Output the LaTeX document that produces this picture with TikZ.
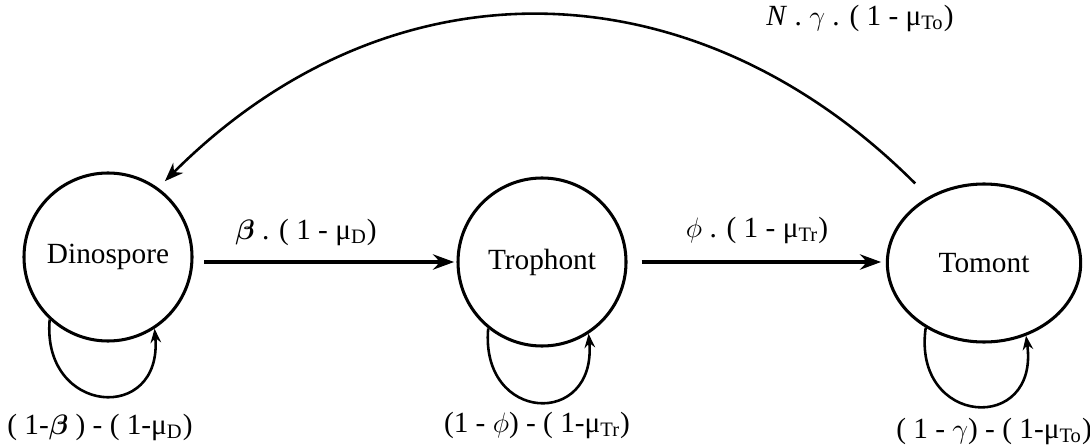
\documentclass[tikz,border=0pt]{standalone}
\usepackage{amsmath}
\usepackage{fontspec}
\setmainfont{Liberation Serif}
\usepackage{tikz}
\usetikzlibrary{shapes.geometric, arrows.meta, positioning}
\tikzset{
  stage/.style={circle, draw, line width=1.3pt, minimum size=2.52cm,
    inner sep=0pt, align=center},
  ovalstage/.style={ellipse, draw, line width=1.3pt, minimum width=2.9cm,
    minimum height=2.37cm, inner sep=0pt, align=center},
  rate/.style={inner sep=1pt},
  arrow/.style={-{Stealth[length=9pt, width=6.5pt, inset=3pt]}, line width=1.8pt},
  backarrow/.style={-{Stealth[length=8pt, width=6pt, inset=2.5pt]}, line width=1.1pt},
  selfarrow/.style={-{Stealth[length=6pt, width=4.5pt, inset=2pt]}, line width=1.1pt}
}

\begin{document}
\begin{tikzpicture}[x=0.015cm, y=0.015cm, every node/.style={font=\fontsize{12.5}{15}\selectfont}]
  \useasboundingbox (0,0) rectangle (1090,444);

  % the three life stages
  \node[stage] (dino) at (108,187) {Dinospore};
  \node[stage] (troph) at (542,182) {Trophont};
  \node[ovalstage] (tomont) at (984,181) {Tomont};

  % transitions
  \draw[arrow, shorten <=4.5pt, shorten >=1pt] (dino.east |- troph.west) -- (troph.west);
  \draw[arrow, shorten <=6pt, shorten >=2pt] (troph.east) -- (troph.east -| tomont.west);
  \draw[backarrow, shorten <=8pt, shorten >=4pt] (tomont.130) .. controls +(135:330) and +(45:330) .. (dino.54);

  % staying in the same stage
  \draw[selfarrow] (dino.227) .. controls +(265:96) and +(275:96) .. (dino.303);
  \draw[selfarrow] (troph.231) .. controls +(265:95) and +(275:95) .. (troph.303);
  \draw[selfarrow] (tomont.228) .. controls +(262:100) and +(278:100) .. (tomont.300);

  % rates
  \node[rate] (betarate) at (306,212) {$\boldsymbol{\beta}$ . ( 1 - μ\textsubscript{D})};
  \node[rate] (phirate) at (757,214) {$\phi$ . ( 1 - μ\textsubscript{Tr})};
  \node[rate] (backrate) at (860,426) {\textit{N} . $\gamma$ . ( 1 - μ\textsubscript{To})};
  \node[rate] (dinostay) at (100,17) {( 1-$\boldsymbol{\beta}$ ) - ( 1-μ\textsubscript{D})};
  \node[rate] (trophstay) at (537,19) {(1 - $\phi$) - ( 1-μ\textsubscript{Tr})};
  \node[rate] (tomontstay) at (994,13) {( 1 - $\gamma$) - ( 1-μ\textsubscript{To})};
\end{tikzpicture}
\end{document}
